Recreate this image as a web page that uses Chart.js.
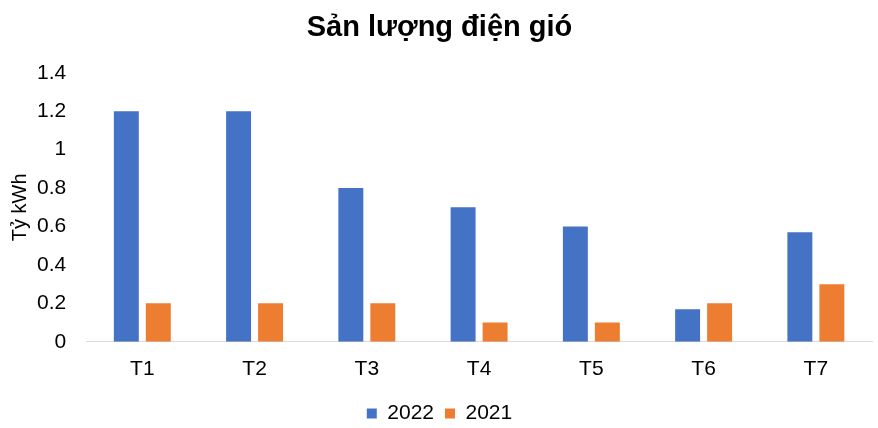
<!DOCTYPE html>
<html>
<head>
<meta charset="utf-8">
<script src="https://cdn.jsdelivr.net/npm/chart.js@4.4.1/dist/chart.umd.min.js"></script>
<style>
  html, body { margin: 0; padding: 0; background: #fff; }
  #wrap { width: 878px; height: 428px; }
</style>
</head>
<body>
<div id="wrap"><canvas id="windChart"></canvas></div>
<script>
const months = ["T1", "T2", "T3", "T4", "T5", "T6", "T7"];
const values2022 = [1.2, 1.2, 0.8, 0.7, 0.6, 0.17, 0.57];
const values2021 = [0.2, 0.2, 0.2, 0.1, 0.1, 0.2, 0.3];
const yTicks = [0, 0.2, 0.4, 0.6, 0.8, 1, 1.2, 1.4];

Chart.defaults.font.family = "'Liberation Sans', Arial, sans-serif";
Chart.defaults.color = "#000";

let ctx = document.getElementById("windChart").getContext("2d");

new Chart(ctx, {
  type: "bar",
  data: {
    labels: months,
    datasets: [
      {
        label: "2022",
        data: values2022,
        backgroundColor: "#4472C4",
        categoryPercentage: 0.57,
        barPercentage: 0.78
      },
      {
        label: "2021",
        data: values2021,
        backgroundColor: "#ED7D31",
        categoryPercentage: 0.57,
        barPercentage: 0.78
      }
    ]
  },
  options: {
    responsive: true,
    maintainAspectRatio: false,
    animation: false,
    layout: { padding: { left: 7, right: 6, top: 4, bottom: -6 } },
    plugins: {
      title: {
        display: true,
        text: "Sản lượng điện gió",
        font: { size: 29, weight: "bold" },
        padding: { top: 7, bottom: 27 }
      },
      legend: {
        position: "bottom",
        labels: {
          boxWidth: 10,
          boxHeight: 10,
          font: { size: 21 },
          padding: 11
        }
      },
      tooltip: { enabled: false }
    },
    scales: {
      x: {
        grid: { display: false },
        border: { display: true, color: "#d9d9d9", width: 1 },
        ticks: { font: { size: 21 }, padding: 7 },
        afterFit: axis => { axis.height += 3; }
      },
      y: {
        min: 0,
        max: 1.4,
        afterBuildTicks: axis => { axis.ticks = yTicks.map(v => ({ value: v })); },
        // pull the axis title closer to the tick labels
        afterFit: axis => { axis.width -= 7; },
        grid: { display: false },
        border: { display: false },
        ticks: {
          font: { size: 21 },
          padding: 12,
          callback: v => String(v)
        },
        title: {
          display: true,
          text: "Tỷ kWh",
          font: { size: 20 },
          padding: { top: 1, bottom: 0 }
        }
      }
    }
  }
});
</script>
</body>
</html>
